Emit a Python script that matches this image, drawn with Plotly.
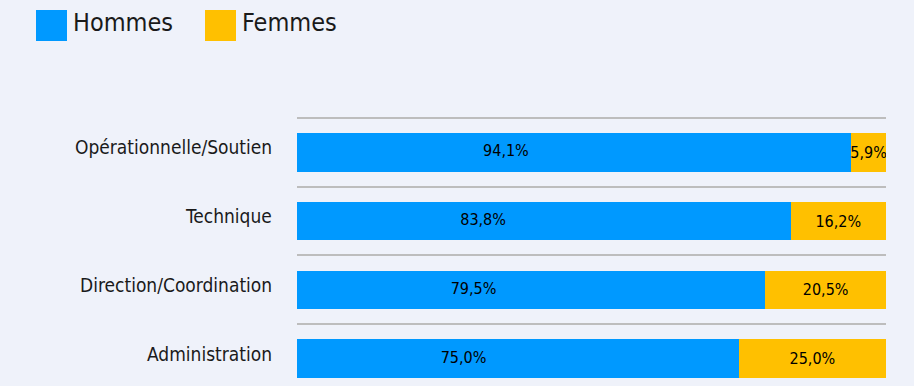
import plotly.graph_objects as go

categories = ["Opérationnelle/Soutien", "Technique", "Direction/Coordination", "Administration"]
hommes = [94.1, 83.8, 79.5, 75.0]
femmes = [5.9, 16.2, 20.5, 25.0]
series_names = ["Hommes", "Femmes"]
colors = ["#0099FF", "#FFC000"]

FONT = "Liberation Sans Narrow, DejaVu Sans Condensed, Roboto, sans-serif"
HOMMES_LABEL_FRAC = 0.377  # reference places the Hommes labels left of the bar centre

def fmt(v):
    return f"{v:.1f}%".replace(".", ",")

idx = list(range(len(categories)))
fig = go.Figure()
fig.add_trace(go.Bar(
    y=idx, x=hommes, orientation="h", name=series_names[0],
    marker=dict(color=colors[0], line=dict(width=0)),
    width=0.56, showlegend=False, hoverinfo="skip",
))
fig.add_trace(go.Bar(
    y=idx, x=femmes, orientation="h", name=series_names[1],
    marker=dict(color=colors[1], line=dict(width=0)),
    text=[fmt(v) for v in femmes], textposition="inside", textangle=0,
    insidetextanchor="middle", constraintext="none",
    textfont=dict(family=FONT, size=16, color="black"),
    width=0.56, showlegend=False, hoverinfo="skip",
))
fig.add_trace(go.Scatter(
    y=idx, x=[v * HOMMES_LABEL_FRAC for v in hommes], mode="text",
    text=[fmt(v) for v in hommes], textposition="middle center",
    textfont=dict(family=FONT, size=16, color="black"),
    showlegend=False, hoverinfo="skip",
))

fig.update_layout(
    barmode="stack",
    width=914, height=386,
    margin=dict(l=297, r=28, t=116, b=0),
    paper_bgcolor="#EFF2FA", plot_bgcolor="#EFF2FA",
    uniformtext=dict(minsize=16, mode="show"),
    font=dict(family=FONT, color="#1a1a1a"),
)
fig.update_xaxes(range=[0, 100], visible=False, showgrid=False, zeroline=False)
fig.update_yaxes(
    range=[3.40, -0.53], tickvals=idx, ticktext=[""] * len(idx),
    showgrid=False, zeroline=False, ticks="",
    minor=dict(tickvals=[i - 0.5 for i in idx], showgrid=True,
               gridcolor="#BDBDBD", gridwidth=1.5, ticks=""),
)

# category labels (slightly raised relative to bar centre, as in the reference)
for i, cat in zip(idx, categories):
    fig.add_annotation(xref="paper", yref="y", x=0, y=i, text=cat,
                       showarrow=False, xanchor="right", yanchor="middle",
                       xshift=-23, yshift=5,
                       font=dict(family=FONT, size=19, color="#1a1a1a"))

# legend drawn as squares + labels
leg_x = [36, 205]
for name, col, x0 in zip(series_names, colors, leg_x):
    fig.add_shape(type="rect", xref="paper", yref="paper",
                  x0=(x0 - 297) / 589, x1=(x0 + 31 - 297) / 589,
                  y0=(270 + 116 - 41) / 270, y1=(270 + 116 - 10) / 270,
                  fillcolor=col, line=dict(width=0), layer="above")
    fig.add_annotation(xref="paper", yref="paper",
                       x=(x0 + 35 - 297) / 589, y=(270 + 116 - 23) / 270,
                       text=name, showarrow=False, xanchor="left", yanchor="middle",
                       font=dict(family=FONT, size=25, color="#1a1a1a"))

fig.write_html("out.html")
